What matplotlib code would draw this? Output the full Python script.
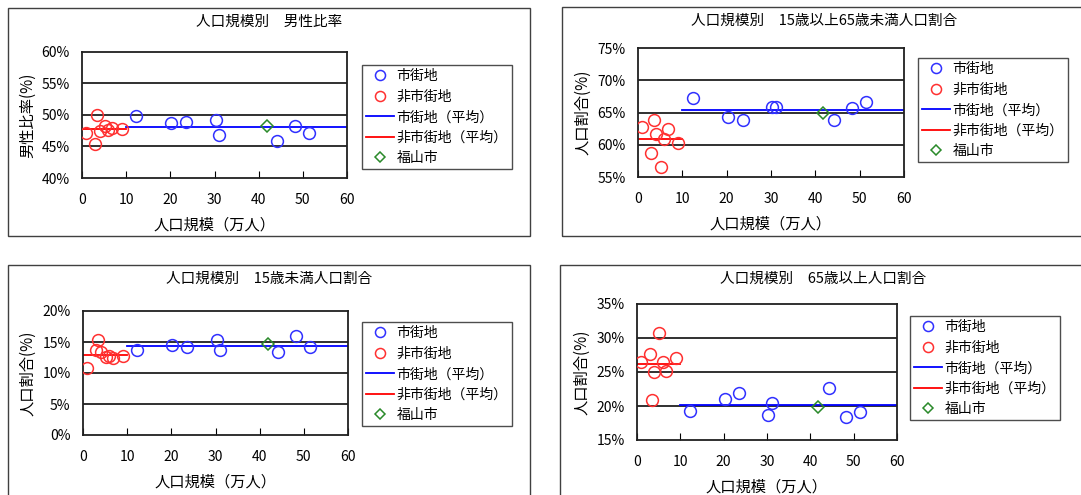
import matplotlib
matplotlib.use('Agg')
import matplotlib.pyplot as plt
from matplotlib.patches import Rectangle
import numpy as np

plt.rcParams['font.family'] = ['Noto Sans CJK JP', 'DejaVu Sans']

# population size (万人)
urban_x = [12.3, 20.2, 23.6, 30.3, 31.1, 44.2, 48.2, 51.4]
rural_x = [0.9, 3.0, 3.5, 4.0, 5.1, 5.9, 6.8, 9.1]
fukuyama_x = [41.8]

# 男性比率 (%)
sex_urban = [49.9, 48.7, 48.9, 49.2, 46.8, 45.9, 48.2, 47.1]
sex_rural = [47.2, 45.4, 50.0, 47.4, 48.3, 47.6, 47.9, 47.8]
sex_fuku = [48.2]

# 15歳以上65歳未満 (%)
work_urban = [67.2, 64.3, 63.8, 65.8, 65.8, 63.9, 65.7, 66.6]
work_rural = [62.7, 58.7, 63.8, 61.6, 56.6, 60.9, 62.4, 60.2]
work_fuku = [64.9]

# 15歳未満 (%)
young_urban = [13.65, 14.5, 14.25, 15.3, 13.7, 13.4, 15.9, 14.2]
young_rural = [10.8, 13.7, 15.3, 13.4, 12.6, 12.7, 12.4, 12.8]
young_fuku = [14.7]

# 65歳以上 (%)
old_urban = [19.2, 21.1, 21.9, 18.7, 20.4, 22.6, 18.4, 19.1]
old_rural = [26.5, 27.6, 20.9, 25.0, 30.8, 26.4, 25.2, 27.0]
old_fuku = [19.8]

labels = ['市街地', '非市街地', '市街地（平均）', '非市街地（平均）', '福山市']

W, H = 1081, 495
fig = plt.figure(figsize=(W / 100, H / 100), dpi=100)


def px(l, t, r, b):
    return [l / W, 1 - b / H, (r - l) / W, (b - t) / H]


def panel(frame, axbox, legxy, title, ylabel, ylim, ystep, urb, rur, fuk):
    # outer chart frame
    fl, ft, fr, fb = frame
    fig.patches.append(Rectangle((fl / W, 1 - fb / H), (fr - fl) / W, (fb - ft) / H,
                                 transform=fig.transFigure, fill=False,
                                 edgecolor='#404040', lw=1.0))
    fig.text((fl + fr) / 2 / W, 1 - (ft + 14) / H, title, ha='center', va='center',
             fontsize=10.5)
    ax = fig.add_axes(px(*axbox))
    ax.set_xlim(0, 60)
    ax.set_ylim(*ylim)
    yt = np.arange(ylim[0], ylim[1] + 0.01, ystep)
    ax.set_yticks(yt)
    ax.set_yticklabels(['%d%%' % v for v in yt])
    ax.set_xticks(range(0, 61, 10))
    for v in yt[1:-1]:
        ax.axhline(v, color='#202020', lw=1.3, zorder=1)
    ax.tick_params(axis='x', direction='in', length=5, pad=11, labelsize=10)
    ax.tick_params(axis='y', length=0, pad=9, labelsize=10)
    for s in ax.spines.values():
        s.set_linewidth(1.3)
        s.set_color('#202020')
    ax.plot(urban_x, urb, 'o', mfc='none', mec='#3030ff', ms=8.5, mew=1.1, zorder=3,
            label=labels[0])
    ax.plot(rural_x, rur, 'o', mfc='none', mec='#ff3030', ms=8.5, mew=1.1, zorder=3,
            label=labels[1])
    ax.plot([10, 60], [np.mean(urb)] * 2, color='#0000ff', lw=1.3, zorder=2,
            label=labels[2])
    ax.plot([0, 10], [np.mean(rur)] * 2, color='#ff0000', lw=1.3, zorder=2,
            label=labels[3])
    ax.plot(fukuyama_x, fuk, 'D', mfc='none', mec='#2a8a2a', ms=6, mew=1.1, zorder=4,
            label=labels[4])
    ax.set_xlabel('人口規模（万人）', fontsize=11, labelpad=7)
    ax.set_ylabel(ylabel, fontsize=11, labelpad=4)
    h, l = ax.get_legend_handles_labels()
    leg = fig.legend(h, l, loc='upper left',
                     bbox_to_anchor=(legxy[0] / W, 1 - legxy[1] / H),
                     fontsize=10, frameon=True, fancybox=False, edgecolor='#202020',
                     handlelength=2.0, handletextpad=0.2, labelspacing=0.47,
                     borderpad=0.3, borderaxespad=0, markerscale=0.85)
    leg.get_frame().set_linewidth(1.0)
    return ax


panel((8, 8, 530, 236), (82, 52, 347, 178), (362, 65), '人口規模別　男性比率', '男性比率(%)',
      (40, 60), 5, sex_urban, sex_rural, sex_fuku)
panel((562, 7, 1086, 236), (638, 48, 904, 177), (918, 58),
      '人口規模別　15歳以上65歳未満人口割合', '人口割合(%)',
      (55, 75), 5, work_urban, work_rural, work_fuku)
panel((8, 265, 530, 500), (83, 311, 348, 435), (362, 322),
      '人口規模別　15歳未満人口割合', '人口割合(%)',
      (0, 20), 5, young_urban, young_rural, young_fuku)
panel((560, 265, 1086, 500), (637, 304, 897, 440), (910, 316),
      '人口規模別　65歳以上人口割合', '人口割合(%)',
      (15, 35), 5, old_urban, old_rural, old_fuku)

fig.savefig('out.png', dpi=100)
